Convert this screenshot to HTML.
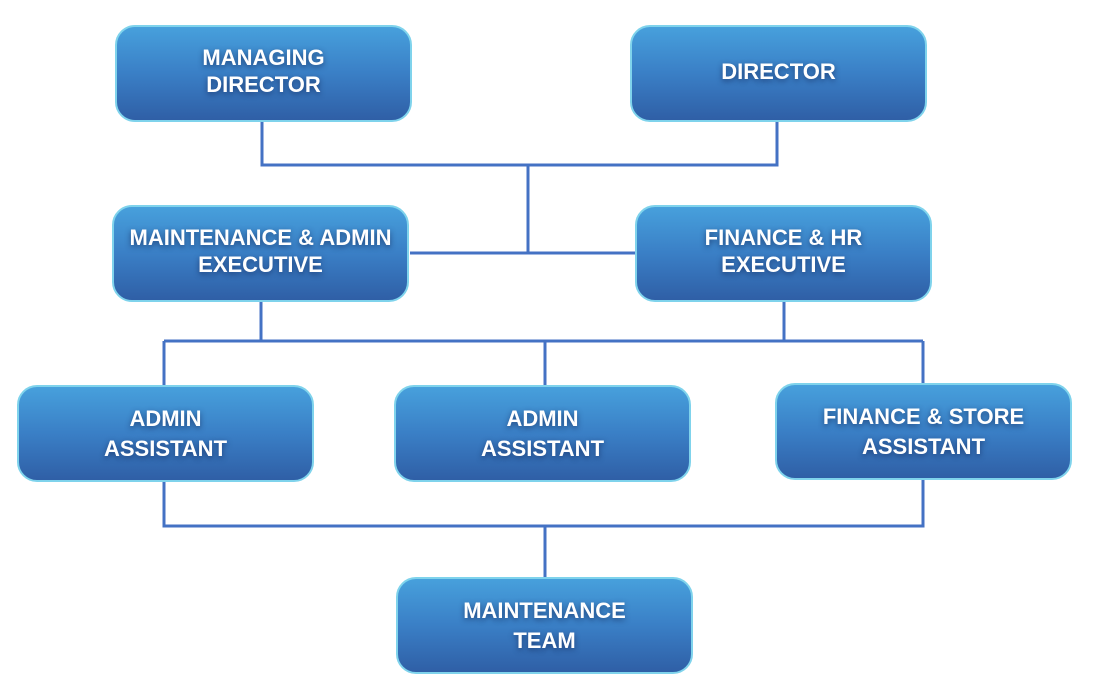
<!DOCTYPE html>
<html><head><style>
body{margin:0;width:1100px;height:700px;background:#fff;position:relative;overflow:hidden;font-family:"Liberation Sans",sans-serif}
.b{position:absolute;width:293px;height:93px;border:2px solid #7fd3ec;border-radius:20px;background:linear-gradient(#47a0dc,#3a7fc6 50%,#2f5fa6);display:flex;align-items:center;justify-content:center;text-align:center;color:#fff;font-weight:bold;font-size:22px;line-height:27px;text-shadow:0 2px 6px rgba(20,40,90,.7);box-sizing:content-box}
.u{height:88px;padding-bottom:5px}
.t{line-height:30px}
svg{position:absolute;left:0;top:0}
</style></head><body>
<svg width="1100" height="700"><g stroke="#4472c4" stroke-width="3" fill="none">
<path d="M262 122V165H777V122M528 165V253M410 253H635"/>
<path d="M261 302V341M784 302V341M164 341H923M164 341V385M545 341V385M923 341V383"/>
<path d="M164 482V526H923V480M545 526V577"/>
</g></svg>
<div class="b u" style="left:115px;top:25px">MANAGING<br>DIRECTOR</div>
<div class="b u" style="left:630px;top:25px">DIRECTOR</div>
<div class="b u" style="left:112px;top:205px">MAINTENANCE &amp; ADMIN<br>EXECUTIVE</div>
<div class="b u" style="left:635px;top:205px">FINANCE &amp; HR<br>EXECUTIVE</div>
<div class="b t" style="left:17px;top:385px">ADMIN<br>ASSISTANT</div>
<div class="b t" style="left:394px;top:385px">ADMIN<br>ASSISTANT</div>
<div class="b t" style="left:775px;top:383px">FINANCE &amp; STORE<br>ASSISTANT</div>
<div class="b t" style="left:396px;top:577px">MAINTENANCE<br>TEAM</div>
</body></html>
